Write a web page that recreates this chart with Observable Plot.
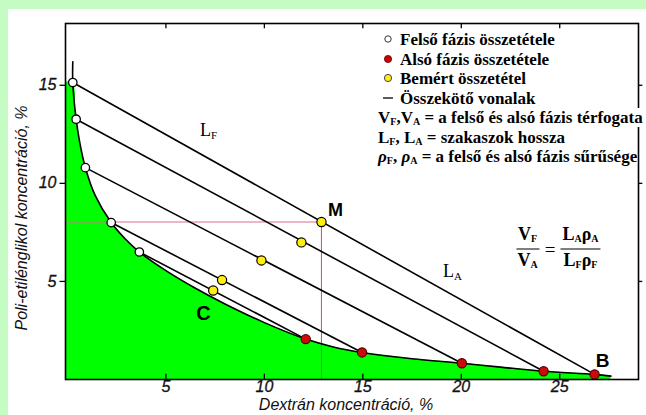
<!DOCTYPE html>
<html><head><meta charset="utf-8">
<script src="https://cdn.jsdelivr.net/npm/d3@7"></script>
<script src="https://cdn.jsdelivr.net/npm/@observablehq/plot@0.6"></script>
<style>
html,body{margin:0;padding:0;background:#c4fcc4;width:646px;height:415px;overflow:hidden;}
#panel{position:absolute;left:8px;top:9px;width:638px;height:406px;background:#fff;}
#wrap{position:absolute;left:0;top:0;width:646px;height:415px;}
.ov{position:absolute;white-space:nowrap;transform:translate(-50%,-50%);color:#000;}
.serif{font-family:"Liberation Serif","Times New Roman",serif;}
.leg{position:absolute;left:383px;top:30px;font-family:"Liberation Serif","Times New Roman",serif;font-weight:bold;font-size:17px;line-height:19.5px;color:#000;}
.leg .row{height:19.5px;white-space:nowrap;}
.leg .row.w span.bg{background:#fff;}
.leg .mk{display:inline-block;width:17px;text-align:left;}
.leg sub{font-size:10px;vertical-align:-2px;}
.frac{display:inline-flex;flex-direction:column;align-items:center;vertical-align:middle;}
.frac .num{border-bottom:1.5px solid #000;padding:0 2px 1px 2px;line-height:18px;}
.frac .den{padding:1px 2px 0 2px;line-height:18px;}
.eq{font-family:"Liberation Serif","Times New Roman",serif;font-weight:bold;font-size:18px;}
.eq sub{font-size:10px;vertical-align:-2px;}
.axlab{position:absolute;font-family:"Liberation Sans",Arial,sans-serif;font-style:italic;font-size:16px;white-space:nowrap;color:#111;transform:translate(-50%,-50%);}
</style>
</head><body>
<div id="panel"></div>
<div id="wrap"></div>
<script>
// ---- data ----
const xTicks = [5, 10, 15, 20, 25];
const yTicks = [5, 10, 15];
// upper phase (open circles)
const upperX = [0.27, 0.44, 0.91, 2.22, 3.65];
const upperY = [15.14, 13.27, 10.8, 8.0, 6.5];
// total (mixed) compositions (yellow)
const mixX = [12.9, 11.88, 9.85, 7.85, 7.4];
const mixY = [8.03, 6.99, 6.07, 5.07, 4.54];
// lower phase (red)
const lowerX = [26.77, 24.18, 20.03, 14.96, 12.1];
const lowerY = [0.26, 0.42, 0.83, 1.38, 2.06];
// binodal curve
const binodalX = [0.27, 0.27, 0.44, 0.62, 0.91, 1.4, 2.22, 2.9, 3.65, 5.0, 6.5, 8.0, 10.0, 12.1, 13.5, 14.96, 17.5, 20.03, 22.0, 24.18, 26.77, 27.6];
const binodalY = [16.2, 15.14, 13.27, 12.1, 10.8, 9.4, 8.0, 7.2, 6.5, 5.55, 4.65, 3.85, 2.9, 2.06, 1.66, 1.38, 1.06, 0.83, 0.63, 0.42, 0.26, 0.17];
const legendLabels = ["Felső fázis összetétele", "Alsó fázis összetétele", "Bemért összetétel", "Összekötő vonalak"];
const xTitle = "Dextrán koncentráció, %";
const yTitle = "Poli-etilénglikol koncentráció, %";

const xDom = [-0.1, 29.0];
const yDom = [0, 18.15];

const binodal = binodalX.map((x, i) => ({x, y: binodalY[i]}));
const areaData = [{x: xDom[0], y: binodalY[1]}, ...binodal.slice(1)];
const ties = upperX.map((x, i) => ({x1: x, y1: upperY[i], x2: lowerX[i], y2: lowerY[i]}));
const up = upperX.map((x, i) => ({x, y: upperY[i]}));
const mix = mixX.map((x, i) => ({x, y: mixY[i]}));
const low = lowerX.map((x, i) => ({x, y: lowerY[i]}));

const tickFont = {fontFamily: "Liberation Sans, Arial, sans-serif", fontStyle: "italic", fontSize: 16, fill: "#111", stroke: "#111", strokeWidth: 0.3};

const plot = Plot.plot({
  width: 646, height: 415,
  marginLeft: 65, marginTop: 23, marginRight: 8, marginBottom: 36,
  x: {domain: xDom, axis: null}, y: {domain: yDom, axis: null},
  style: {background: "transparent", overflow: "visible"},
  marks: [
    Plot.areaY(areaData, {x: "x", y: "y", curve: "catmull-rom", fill: "#00ff00"}),
    Plot.ruleY([mixY[0]], {x1: xDom[0], x2: mixX[0], stroke: "#dc6f8a", strokeWidth: 1.1}),
    Plot.ruleX([mixX[0]], {y1: 0, y2: mixY[0], stroke: "#c8586f", strokeWidth: 1.1}),
    Plot.line(binodal, {x: "x", y: "y", curve: "catmull-rom", stroke: "#000", strokeWidth: 1.6}),
    Plot.link(ties, {x1: "x1", y1: "y1", x2: "x2", y2: "y2", stroke: "#000", strokeWidth: 1.6}),
    Plot.dot(up, {x: "x", y: "y", r: 4.2, fill: "#fff", stroke: "#000", strokeWidth: 1.3}),
    Plot.dot(low, {x: "x", y: "y", r: 4.6, fill: "#cc0a0a", stroke: "#500", strokeWidth: 1.2}),
    Plot.dot(mix, {x: "x", y: "y", r: 4.6, fill: "#ffee10", stroke: "#000", strokeWidth: 1.2}),
    // ticks
    Plot.ruleX(xTicks, {y1: yDom[0], y2: 0.27, stroke: "#000", strokeWidth: 1.3}),
    Plot.ruleX(xTicks, {y1: yDom[1] - 0.27, y2: yDom[1], stroke: "#000", strokeWidth: 1.3}),
    Plot.ruleY(yTicks, {x1: xDom[0] - 0.28, x2: xDom[0], stroke: "#000", strokeWidth: 1.3}),
    Plot.ruleY(yTicks, {x1: xDom[1], x2: xDom[1] + 0.22, stroke: "#000", strokeWidth: 1.3}),
    Plot.text(xTicks, {x: d => d, frameAnchor: "bottom", dy: 12, ...tickFont}),
    Plot.text(yTicks, {y: d => d, frameAnchor: "left", dx: -9, textAnchor: "end", ...tickFont}),
    Plot.frame({stroke: "#000", strokeWidth: 1.6}),
    // point labels
    Plot.text([mix[0]], {x: "x", y: "y", text: () => "M", dx: 14, dy: -12, fontFamily: "Liberation Sans, Arial, sans-serif", fontWeight: "bold", fontSize: 18}),
    Plot.text([low[0]], {x: "x", y: "y", text: () => "B", dx: 8, dy: -13, fontFamily: "Liberation Sans, Arial, sans-serif", fontWeight: "bold", fontSize: 19}),
    Plot.text([binodal[10]], {x: "x", y: "y", text: () => "C", dx: 8, dy: 25, fontFamily: "Liberation Sans, Arial, sans-serif", fontWeight: "bold", fontSize: 20})
  ]
});
const wrap = document.getElementById("wrap");
plot.style.position = "absolute"; plot.style.left = "0"; plot.style.top = "0";
wrap.appendChild(plot);

const sx = plot.scale("x"), sy = plot.scale("y");
function ov(html, x, y, cls, style) {
  const d = document.createElement("div");
  d.className = "ov " + (cls || "");
  d.innerHTML = html;
  d.style.left = x + "px"; d.style.top = y + "px";
  if (style) Object.assign(d.style, style);
  wrap.appendChild(d);
  return d;
}
// L_F, L_A labels near midpoints of the outer tie line segments
const mF = [(upperX[0] + mixX[0]) / 2, (upperY[0] + mixY[0]) / 2];
const mA = [(mixX[0] + lowerX[0]) / 2, (mixY[0] + lowerY[0]) / 2];
const subS = 'font-size:11px;vertical-align:-3px;';
ov('L<span style="' + subS + '">F</span>', sx.apply(mF[0]) + 12, sy.apply(mF[1]) - 22, "serif", {fontSize: "18px"});
ov('L<span style="' + subS + '">A</span>', sx.apply(mA[0]) - 5, sy.apply(mA[1]) - 27, "serif", {fontSize: "18px"});

// equation
ov('<span class="frac"><span class="num">V<sub>F</sub></span><span class="den">V<sub>A</sub></span></span>' +
   '<span style="margin:0 5px;font-weight:normal;font-size:19px;vertical-align:middle;">=</span>' +
   '<span class="frac"><span class="num">L<sub>A</sub>ρ<sub>A</sub></span><span class="den">L<sub>F</sub>ρ<sub>F</sub></span></span>',
   558, 249, "eq");

// legend
const leg = document.createElement("div");
leg.className = "leg";
const mk = [
  '<svg width="10" height="10" style="vertical-align:1px"><circle cx="5" cy="5" r="3.2" fill="#fff" stroke="#333" stroke-width="1"/></svg>',
  '<svg width="10" height="10" style="vertical-align:1px"><circle cx="5" cy="5" r="3.6" fill="#c00" stroke="#600" stroke-width="0.8"/></svg>',
  '<svg width="10" height="10" style="vertical-align:1px"><circle cx="5" cy="5" r="3.6" fill="#ffee10" stroke="#444" stroke-width="1"/></svg>',
  '<svg width="10" height="10" style="vertical-align:1px"><line x1="0" y1="5" x2="10" y2="5" stroke="#000" stroke-width="1.3"/></svg>'
];
let h = "";
legendLabels.forEach((t, i) => { h += '<div class="row"><span class="mk">' + mk[i] + '</span>' + t + '</div>'; });
h += '<div class="row w" style="margin-left:-5px"><span class="bg">V<sub>F</sub>,V<sub>A</sub> = a felső és alsó fázis térfogata</span></div>';
h += '<div class="row w" style="margin-left:-5px"><span class="bg">L<sub>F</sub>, L<sub>A</sub> = szakaszok hossza</span></div>';
h += '<div class="row w" style="margin-left:-5px"><span class="bg"><i>ρ</i><sub>F</sub>, <i>ρ</i><sub>A</sub> = a felső és alsó fázis sűrűsége</span></div>';
leg.innerHTML = h;
wrap.appendChild(leg);

// axis titles
const xl = document.createElement("div");
xl.className = "axlab"; xl.textContent = xTitle;
xl.style.left = "346px"; xl.style.top = "405px";
wrap.appendChild(xl);
const yl = document.createElement("div");
yl.className = "axlab"; yl.textContent = yTitle;
yl.style.left = "22px"; yl.style.top = "218px";
yl.style.transform = "translate(-50%,-50%) rotate(-90deg)";
wrap.appendChild(yl);
</script>
</body></html>
